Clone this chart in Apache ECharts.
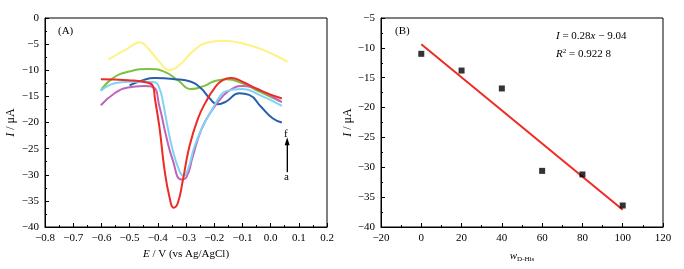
<!DOCTYPE html>
<html>
<head>
<meta charset="utf-8">
<script src="https://cdn.jsdelivr.net/npm/echarts@6/dist/echarts.min.js"></script>
<style>html,body{margin:0;padding:0;background:#fff}#c{width:684px;height:269px}</style>
</head>
<body>
<div id="c"></div>
<script>
// ---- Panel A: DPV curves (E / V vs I / uA) ----
const yellowX = [-0.574, -0.506, -0.464, -0.435, -0.394, -0.358, -0.323, -0.27, -0.223, -0.17, -0.076, -0.005, 0.06];
const yellowY = [-7.9, -5.8, -4.65, -5.8, -8.4, -9.95, -9.0, -6.1, -4.7, -4.34, -5.2, -6.6, -8.4];
const greenX = [-0.602, -0.564, -0.506, -0.435, -0.376, -0.329, -0.282, -0.235, -0.205, -0.158, -0.1, -0.04, 0.036];
const greenY = [-13.9, -11.7, -10.3, -9.76, -10.3, -11.9, -13.6, -13.0, -12.2, -11.7, -12.5, -14.1, -16.0];
const blueX = [-0.5, -0.458, -0.411, -0.341, -0.282, -0.246, -0.217, -0.188, -0.158, -0.111, -0.076, -0.034, 0.007, 0.04];
const blueY = [-12.9, -12.0, -11.5, -11.7, -12.2, -13.5, -15.3, -16.5, -16.0, -14.4, -14.7, -17.0, -19.2, -20.0];
const redX = [-0.602, -0.506, -0.435, -0.417, -0.41, -0.394, -0.376, -0.358, -0.344, -0.329, -0.311, -0.288, -0.258, -0.229, -0.2, -0.17, -0.14, -0.1, -0.04, 0.04];
const redY = [-11.7, -11.9, -12.4, -13.1, -15.5, -21.0, -29.1, -34.4, -36.3, -35.4, -31.0, -24.6, -19.3, -16.0, -13.5, -11.9, -11.5, -12.2, -13.8, -15.4];
const cyanX = [-0.602, -0.553, -0.506, -0.45, -0.411, -0.394, -0.382, -0.37, -0.347, -0.323, -0.309, -0.294, -0.27, -0.241, -0.205, -0.18, -0.158, -0.1, -0.04, 0.04];
const cyanY = [-13.9, -12.5, -12.2, -12.2, -12.3, -13.5, -16.0, -19.5, -25.3, -29.3, -30.2, -29.1, -24.6, -20.8, -17.3, -15.0, -14.0, -13.6, -14.7, -16.8];
const magentaX = [-0.602, -0.553, -0.506, -0.45, -0.417, -0.394, -0.37, -0.347, -0.317, -0.299, -0.276, -0.246, -0.211, -0.17, -0.135, -0.095, -0.05, -0.017, 0.04];
const magentaY = [-16.7, -14.4, -13.3, -13.0, -13.2, -17.0, -22.7, -27.2, -30.9, -30.5, -26.5, -21.4, -17.9, -15.0, -13.5, -13.0, -13.5, -14.4, -16.1];
const arrowX = [0.0587, 0.0587];
const arrowY = [-29.5, -23.6];

// ---- Panel B: peak current vs w(D-His) ----
const wValues = [0, 20, 40, 60, 80, 100];
const peakCurrent = [-11.0, -13.8, -16.8, -30.6, -31.2, -36.4];
const fitX = [0, 100];
const fitY = [-9.4, -37.1];

const FONT = 'Liberation Serif';
const minus = v => String(v).replace('-', '\u2212');
const zip = (xs, ys) => xs.map((x, i) => [x, ys[i]]);

function axisCommon() {
  return {
    axisLine: { show: true, onZero: false, lineStyle: { color: '#000', width: 1 } },
    axisTick: { show: true, inside: true, length: 4, lineStyle: { color: '#000' } },
    minorTick: { show: true, splitNumber: 2, length: 2, lineStyle: { color: '#000' } },
    splitLine: { show: false },
    minorSplitLine: { show: false },
    axisLabel: { color: '#000', fontFamily: FONT, fontSize: 11, margin: 6 }
  };
}

function lineSeries(xs, ys, color) {
  return {
    type: 'line', xAxisIndex: 0, yAxisIndex: 0,
    data: zip(xs, ys), smooth: 0.5,
    showSymbol: false, symbol: 'none',
    lineStyle: { color: color, width: 2 }, itemStyle: { color: color },
    animation: false
  };
}

const chart = echarts.init(document.getElementById('c'), null, { renderer: 'canvas' });
const ax0 = axisCommon(), ay0 = axisCommon(), ax1 = axisCommon(), ay1 = axisCommon();

chart.setOption({
  animation: false,
  grid: [
    { left: 45, right: 357, top: 18, bottom: 42, show: true, borderColor: '#000', borderWidth: 1, backgroundColor: 'transparent' },
    { left: 381, right: 21, top: 18, bottom: 42, show: true, borderColor: '#000', borderWidth: 1, backgroundColor: 'transparent' }
  ],
  xAxis: [
    Object.assign(ax0, {
      type: 'value', gridIndex: 0, min: -0.8, max: 0.2, interval: 0.1,
      axisLabel: Object.assign(ax0.axisLabel, { formatter: v => minus(v.toFixed(1)) }),
      name: '{i|E} / V (vs Ag/AgCl)', nameLocation: 'middle', nameGap: 21,
      nameTextStyle: { color: '#000', fontFamily: FONT, fontSize: 11,
        rich: { i: { fontStyle: 'italic', fontFamily: FONT, fontSize: 11, color: '#000' } } }
    }),
    Object.assign(ax1, {
      type: 'value', gridIndex: 1, min: -20, max: 120, interval: 20,
      axisLabel: Object.assign(ax1.axisLabel, { formatter: v => minus(v) }),
      name: '{i|w}{s|D-His}', nameLocation: 'middle', nameGap: 22,
      nameTextStyle: { color: '#000', fontFamily: FONT, fontSize: 11,
        rich: {
          i: { fontStyle: 'italic', fontFamily: FONT, fontSize: 11, color: '#000' },
          s: { fontFamily: FONT, fontSize: 7, color: '#000', padding: [7, 0, 0, 0] }
        } }
    })
  ],
  yAxis: [
    Object.assign(ay0, {
      type: 'value', gridIndex: 0, min: -40, max: 0, interval: 5,
      axisLabel: Object.assign(ay0.axisLabel, { formatter: v => minus(v) }),
      name: '{i|I} / μA', nameLocation: 'middle', nameGap: 28,
      nameTextStyle: { color: '#000', fontFamily: FONT, fontSize: 12,
        rich: { i: { fontStyle: 'italic', fontFamily: FONT, fontSize: 12, color: '#000' } } }
    }),
    Object.assign(ay1, {
      type: 'value', gridIndex: 1, min: -40, max: -5, interval: 5,
      axisLabel: Object.assign(ay1.axisLabel, { formatter: v => minus(v) }),
      name: '{i|I} / μA', nameLocation: 'middle', nameGap: 26,
      nameTextStyle: { color: '#000', fontFamily: FONT, fontSize: 12,
        rich: { i: { fontStyle: 'italic', fontFamily: FONT, fontSize: 12, color: '#000' } } }
    })
  ],
  series: [
    lineSeries(yellowX, yellowY, '#fff283'),
    lineSeries(greenX, greenY, '#7cc242'),
    lineSeries(blueX, blueY, '#2a5eab'),
    lineSeries(magentaX, magentaY, '#c064b6'),
    lineSeries(cyanX, cyanY, '#80d2f6'),
    lineSeries(redX, redY, '#ee2a24'),
    {
      type: 'line', xAxisIndex: 0, yAxisIndex: 0, data: zip(arrowX, arrowY),
      showSymbol: false, symbol: 'none', lineStyle: { color: '#000', width: 1 },
      markLine: {
        silent: true, symbol: ['none', 'triangle'], symbolSize: [5, 8],
        lineStyle: { color: '#000', width: 1, type: 'solid' }, label: { show: false },
        data: [[{ coord: [arrowX[0], arrowY[0]] }, { coord: [arrowX[1], arrowY[1]] }]]
      }
    },
    {
      type: 'line', xAxisIndex: 1, yAxisIndex: 1, data: zip(fitX, fitY),
      showSymbol: false, symbol: 'none', lineStyle: { color: '#ee2a24', width: 2 }, z: 2
    },
    {
      type: 'scatter', xAxisIndex: 1, yAxisIndex: 1, data: zip(wValues, peakCurrent),
      symbol: 'rect', symbolSize: 6, itemStyle: { color: '#000' }, z: 3
    }
  ],
  graphic: [
    { type: 'text', left: 58, top: 26, style: { text: '(A)', font: '11px "Liberation Serif"', fill: '#000' } },
    { type: 'text', left: 395, top: 26, style: { text: '(B)', font: '11px "Liberation Serif"', fill: '#000' } },
    { type: 'text', left: 284, top: 129, style: { text: 'f', font: '11px "Liberation Serif"', fill: '#000' } },
    { type: 'text', left: 284, top: 172, style: { text: 'a', font: '11px "Liberation Serif"', fill: '#000' } },
    { type: 'text', left: 556, top: 31, style: {
        text: '{i|I} = 0.28{i|x} \u2212 9.04', font: '11px "Liberation Serif"', fill: '#000',
        rich: { i: { fontStyle: 'italic', fontFamily: FONT, fontSize: 11 } } } },
    { type: 'text', left: 556, top: 48, style: {
        text: '{i|R}{s|2} = 0.922 8', font: '11px "Liberation Serif"', fill: '#000',
        rich: { i: { fontStyle: 'italic', fontFamily: FONT, fontSize: 11 }, s: { fontFamily: FONT, fontSize: 7, padding: [0, 0, 5, 0] } } } }
  ]
});
</script>
</body>
</html>
